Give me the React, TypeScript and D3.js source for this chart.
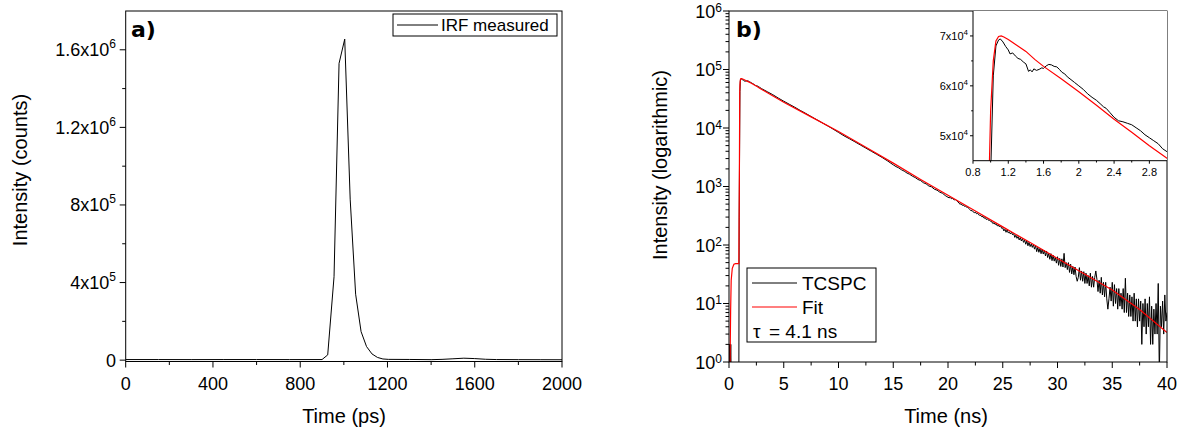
import React from "react";
import * as d3 from "d3";

// ---------------- Panel a) IRF ----------------
const irfTime = [0, 150, 300, 450, 600, 750, 900, 926, 955, 978, 1004, 1029, 1054, 1079, 1104, 1129, 1154, 1179, 1204, 1300, 1400, 1450, 1500, 1550, 1600, 1650, 1700, 1800, 1900, 2000];
const irfCounts = [3000, 3000, 2800, 3000, 3100, 2900, 3000, 27000, 430000, 1530000, 1655000, 830000, 340000, 147000, 70000, 32000, 14000, 6000, 4000, 3500, 2500, 4000, 7000, 10000, 8000, 4500, 3000, 2500, 2200, 2000];
const aXTicks = [0, 400, 800, 1200, 1600, 2000];
const aXMinor = [200, 600, 1000, 1400, 1800];
const aYTicks = [0, 400000, 800000, 1200000, 1600000];
const aYTickMant = ["0", "4x10", "8x10", "1.2x10", "1.6x10"];
const aYTickExp = ["", "5", "5", "6", "6"];
const aYMinor = [200000, 600000, 1000000, 1400000];

// ---------------- Panel b) TCSPC ----------------
const tcspcEarlyTime = [0, 0.04, 0.06, 0.1, 0.13, 0.16, 0.2, 0.9, 0.93, 0.97];
const tcspcEarlyCounts = [0, 2, 0, 2, 1, 2, 0, 0, 300, 5000];
const tcspcPeakTime = [1.0, 1.03, 1.06, 1.09, 1.11, 1.14, 1.17, 1.2, 1.22, 1.25, 1.28, 1.31, 1.34, 1.37, 1.4, 1.43, 1.45, 1.47, 1.49, 1.52, 1.55, 1.58, 1.6, 1.63, 1.66, 1.69, 1.72, 1.75, 1.78, 1.81, 1.84, 1.87, 1.9, 1.95, 2.0, 2.05, 2.1, 2.15, 2.2, 2.25, 2.28, 2.31, 2.35, 2.4, 2.45, 2.5, 2.55, 2.6, 2.65, 2.7, 2.75, 2.8, 2.85, 2.9, 2.95, 3.0];
const tcspcPeakCounts = [42000, 62000, 68000, 69200, 69400, 68800, 67900, 67200, 66400, 66600, 66000, 65500, 65300, 64800, 64400, 62900, 63200, 62800, 63400, 63100, 63300, 63600, 63500, 64000, 64300, 64200, 63900, 63800, 63300, 62700, 62400, 61800, 61400, 60700, 60000, 59300, 58400, 57700, 57100, 56300, 55800, 55500, 54700, 53700, 53000, 52800, 52500, 52200, 51600, 51000, 50200, 49600, 49000, 48400, 47400, 46800];
const tcspcDecayTime = [3.5, 4, 4.5, 5, 5.5, 6, 6.5, 7, 7.5, 8, 8.5, 9, 9.5, 10, 10.5, 11, 11.5, 12, 12.5, 13, 13.5, 14, 14.5];
const tcspcDecayCounts = [41700, 37100, 32500, 28700, 25500, 22700, 20000, 17800, 15700, 13900, 12300, 10900, 9600, 8400, 7350, 6550, 5800, 5120, 4530, 4000, 3540, 3120, 2720];
const tcspcTailStart = 15;
const tcspcTailStep = 0.25;
const tcspcTailCounts = [2344, 2190, 2080, 1930, 1830, 1700, 1615, 1500, 1425, 1320, 1262, 1160, 1110, 1020, 985, 900, 865, 800, 765, 700];
const tcspcNoiseStart = 20;
const tcspcNoiseStep = 0.1;
const tcspcNoiseCounts = [
  655, 641, 652, 618, 627, 600, 592, 598, 566, 551,
  518, 498, 506, 476, 485, 458, 466, 441, 447, 420,
  402, 384, 390, 368, 357, 366, 342, 350, 328, 322,
  320, 302, 309, 286, 297, 272, 283, 264, 266, 252,
  250, 232, 240, 224, 233, 212, 219, 204, 214, 193,
  196, 174, 186, 165, 182, 161, 168, 154, 165, 149,
  157, 135, 147, 130, 140, 122, 134, 117, 129, 111,
  121, 103, 117, 97, 111, 94, 104, 91, 102, 85,
  97, 77, 91, 75, 87, 71, 85, 70, 81, 65,
  79, 61, 72, 57, 71, 54, 67, 53, 62, 49,
  63, 45, 59, 43, 58, 42, 72, 41, 50, 38,
  50, 34, 47, 32, 43, 31, 42, 29, 24, 28,
  41, 25, 36, 24, 35, 22, 33, 22, 30, 20,
  33, 19, 29, 19, 28, 36, 26, 16, 25, 15,
  28, 14, 23, 13, 23, 12, 8, 12, 19, 11,
  23, 9, 21, 10, 18, 8, 18, 9, 15, 8,
  18, 7, 27, 7, 15, 6, 14, 6, 13, 5,
  15, 5, 12, 4, 12, 5, 11, 2, 10, 4,
  12, 3, 10, 4, 13, 2, 9, 2, 8, 3,
  10, 3, 22, 0, 9, 4, 11, 3, 14, 5,
  7,
];
const fitTime = [0.08, 0.15, 0.2, 0.3, 0.45, 0.6, 0.9, 0.95, 0.98, 1.0, 1.03, 1.06, 1.09, 1.12, 1.15, 1.2, 1.3, 1.4, 1.5, 1.6, 1.8, 2.0, 2.2, 2.4, 2.6, 2.8, 3.0, 5, 7.5, 10, 12.5, 15, 17.5, 20, 22.5, 25, 27.5, 30, 32.5, 35, 37.5, 40];
const fitCounts = [0.5, 8, 25, 40, 47, 48, 48, 2000, 40000, 55000, 65000, 69000, 69900, 70000, 69800, 69300, 68100, 66900, 65300, 63900, 61400, 58800, 56100, 53300, 50700, 48000, 45500, 27500, 15500, 8700, 4680, 2510, 1320, 708, 380, 204, 110, 59, 31.6, 17, 7.9, 3.2];

const bXTicks = [0, 5, 10, 15, 20, 25, 30, 35, 40];
const bXMinor = [2.5, 7.5, 12.5, 17.5, 22.5, 27.5, 32.5, 37.5];
const bYExps = [0, 1, 2, 3, 4, 5, 6];
const insetXTicks = [0.8, 1.2, 1.6, 2, 2.4, 2.8];
const insetXLabels = ["0.8", "1.2", "1.6", "2", "2.4", "2.8"];
const insetXMinor = [1.0, 1.4, 1.8, 2.2, 2.6];
const insetYTicks = [50000, 60000, 70000];
const insetYMant = ["5x10", "6x10", "7x10"];
const insetYMinor = [55000, 65000];

type P = { t: number; v: number };

function buildTcspc(): P[] {
  const pts: P[] = [];
  tcspcEarlyTime.forEach((t, i) => pts.push({ t, v: tcspcEarlyCounts[i] }));
  tcspcPeakTime.forEach((t, i) => pts.push({ t, v: tcspcPeakCounts[i] }));
  tcspcDecayTime.forEach((t, i) => pts.push({ t, v: tcspcDecayCounts[i] }));
  tcspcTailCounts.forEach((v, i) => pts.push({ t: tcspcTailStart + i * tcspcTailStep, v }));
  tcspcNoiseCounts.forEach((v, i) => pts.push({ t: tcspcNoiseStart + i * tcspcNoiseStep, v }));
  return pts;
}

const FONT = "'Liberation Sans', Arial, sans-serif";
const BOLD = "'DejaVu Sans', Verdana, sans-serif";

export default function App() {
  const xA = d3.scaleLinear().domain([0, 2000]).range([125.7, 562]);
  const yA = d3.scaleLinear().domain([-7000, 1.8e6]).range([361.5, 11]);
  const xB = d3.scaleLinear().domain([0, 40]).range([729, 1167]);
  const yB = d3.scaleLog().domain([1, 1e6]).range([362, 11]);
  const xI = d3.scaleLinear().domain([0.8, 3.0]).range([973, 1167]);
  const yI = d3.scaleLinear().domain([45000, 75000]).range([160.7, 11]);

  const irf = irfTime.map((t, i) => ({ t, v: irfCounts[i] }));
  const irfPath = d3.line<P>().x((d) => xA(d.t)).y((d) => yA(d.v))(irf) || "";

  const tcspc = buildTcspc();
  const fit = fitTime.map((t, i) => ({ t, v: fitCounts[i] }));
  const logLine = d3
    .line<P>()
    .x((d) => xB(d.t))
    .y((d) => (d.v > 0 ? yB(Math.max(d.v, 0.3)) : 375));
  const insetLine = d3.line<P>().x((d) => xI(d.t)).y((d) => yI(d.v));

  const minorLog: number[] = [];
  for (let e = 0; e < 6; e++) for (let m = 2; m <= 9; m++) minorLog.push(m * Math.pow(10, e));

  const axisColor = "#000";

  return (
    <svg
      width={1185}
      height={434}
      style={{ position: "absolute", left: 0, top: 0, background: "#fff" }}
      fontFamily={FONT}
    >
      <defs>
        <clipPath id="clipA">
          <rect x={125.7} y={11} width={562 - 125.7} height={361.5 - 11} />
        </clipPath>
        <clipPath id="clipB">
          <rect x={729} y={11} width={1167 - 729} height={362 - 11} />
        </clipPath>
        <clipPath id="clipI">
          <rect x={973} y={11} width={1167 - 973} height={160.7 - 11} />
        </clipPath>
      </defs>
      <rect x={0} y={0} width={1185} height={434} fill="#fff" />

      {/* ---------- Panel a ---------- */}
      <g>
        <path d={irfPath} fill="none" stroke="#000" strokeWidth={1} clipPath="url(#clipA)" />
        <rect x={125.7} y={11} width={562 - 125.7} height={361.5 - 11} fill="none" stroke={axisColor} strokeWidth={1} />
        {aXTicks.map((v) => (
          <g key={"ax" + v}>
            <line x1={xA(v)} x2={xA(v)} y1={361.5} y2={367.5} stroke={axisColor} />
            <text x={xA(v)} y={390} fontSize={18} textAnchor="middle">{v}</text>
          </g>
        ))}
        {aXMinor.map((v) => (
          <line key={"axm" + v} x1={xA(v)} x2={xA(v)} y1={361.5} y2={365} stroke={axisColor} />
        ))}
        {aYTicks.map((v, i) => (
          <g key={"ay" + v}>
            <line x1={119.7} x2={125.7} y1={yA(v)} y2={yA(v)} stroke={axisColor} />
            <text x={116} y={yA(v) + 6.5} fontSize={18} textAnchor="end">
              <tspan>{aYTickMant[i]}</tspan>
              {aYTickExp[i] && (
                <tspan dy={-8} fontSize={12}>{aYTickExp[i]}</tspan>
              )}
            </text>
          </g>
        ))}
        {aYMinor.map((v) => (
          <line key={"aym" + v} x1={122.2} x2={125.7} y1={yA(v)} y2={yA(v)} stroke={axisColor} />
        ))}
        <text x={344} y={423} fontSize={20} textAnchor="middle">Time (ps)</text>
        <text transform="translate(27,170) rotate(-90)" fontSize={20} textAnchor="middle">Intensity (counts)</text>
        <text x={131} y={37} fontSize={22} fontWeight="bold" fontFamily={BOLD}>a)</text>
        <rect x={393} y={14} width={164} height={22} fill="#fff" stroke="#000" strokeWidth={1} />
        <line x1={397} x2={438} y1={25} y2={25} stroke="#000" strokeWidth={1} />
        <text x={441} y={31} fontSize={17}>IRF measured</text>
      </g>

      {/* ---------- Panel b ---------- */}
      <g>
        <g clipPath="url(#clipB)">
          <path d={logLine(tcspc) || ""} fill="none" stroke="#000" strokeWidth={1} />
          <path d={logLine(fit) || ""} fill="none" stroke="#ff0000" strokeWidth={1.2} />
        </g>
        <rect x={729} y={11} width={1167 - 729} height={362 - 11} fill="none" stroke={axisColor} strokeWidth={1} />
        {bXTicks.map((v) => (
          <g key={"bx" + v}>
            <line x1={xB(v)} x2={xB(v)} y1={362} y2={368} stroke={axisColor} />
            <text x={xB(v)} y={390} fontSize={18} textAnchor="middle">{v}</text>
          </g>
        ))}
        {bXMinor.map((v) => (
          <line key={"bxm" + v} x1={xB(v)} x2={xB(v)} y1={362} y2={365.5} stroke={axisColor} />
        ))}
        {bYExps.map((e) => {
          const v = Math.pow(10, e);
          return (
            <g key={"by" + e}>
              <line x1={723} x2={729} y1={yB(v)} y2={yB(v)} stroke={axisColor} />
              <text x={722} y={yB(v) + 6.5} fontSize={18} textAnchor="end">
                <tspan>10</tspan>
                <tspan dy={-6} fontSize={12}>{e}</tspan>
              </text>
            </g>
          );
        })}
        {minorLog.map((v) => (
          <line key={"bym" + v} x1={725.5} x2={729} y1={yB(v)} y2={yB(v)} stroke={axisColor} />
        ))}
        <text x={946} y={423} fontSize={20} textAnchor="middle">Time (ns)</text>
        <text transform="translate(667,165) rotate(-90)" fontSize={20} textAnchor="middle">Intensity (logarithmic)</text>
        <text x={736} y={37} fontSize={22} fontWeight="bold" fontFamily={BOLD}>b)</text>

        <rect x={747} y={268} width={129} height={74} fill="#fff" stroke="#000" strokeWidth={1} />
        <line x1={752} x2={797} y1={283} y2={283} stroke="#000" strokeWidth={1} />
        <text x={802} y={290} fontSize={19}>TCSPC</text>
        <line x1={752} x2={797} y1={307} y2={307} stroke="#ff0000" strokeWidth={1.2} />
        <text x={802} y={314} fontSize={19}>Fit</text>
        <text x={753} y={338} fontSize={19}>τ</text>
        <text x={769} y={338} fontSize={19}>= 4.1 ns</text>

        <rect x={973} y={11} width={1167 - 973} height={160.7 - 11} fill="#fff" stroke="none" />
        <g clipPath="url(#clipI)">
          <path d={insetLine(tcspc) || ""} fill="none" stroke="#000" strokeWidth={1} />
          <path d={insetLine(fit) || ""} fill="none" stroke="#ff0000" strokeWidth={1.2} />
        </g>
        <line x1={973} x2={973} y1={11} y2={160.7} stroke={axisColor} />
        <line x1={973} x2={1167} y1={160.7} y2={160.7} stroke={axisColor} />
        {insetXTicks.map((v, i) => (
          <g key={"ix" + v}>
            <line x1={xI(v)} x2={xI(v)} y1={160.7} y2={163.7} stroke={axisColor} />
            <text x={xI(v)} y={176} fontSize={11} textAnchor="middle">{insetXLabels[i]}</text>
          </g>
        ))}
        {insetXMinor.map((v) => (
          <line key={"ixm" + v} x1={xI(v)} x2={xI(v)} y1={160.7} y2={162.5} stroke={axisColor} />
        ))}
        {insetYTicks.map((v, i) => (
          <g key={"iy" + v}>
            <line x1={970} x2={973} y1={yI(v)} y2={yI(v)} stroke={axisColor} />
            <text x={968} y={yI(v) + 4} fontSize={11} textAnchor="end">
              <tspan>{insetYMant[i]}</tspan>
              <tspan dy={-5} fontSize={8}>4</tspan>
            </text>
          </g>
        ))}
        {insetYMinor.map((v) => (
          <line key={"iym" + v} x1={971.2} x2={973} y1={yI(v)} y2={yI(v)} stroke={axisColor} />
        ))}
      </g>
    </svg>
  );
}
